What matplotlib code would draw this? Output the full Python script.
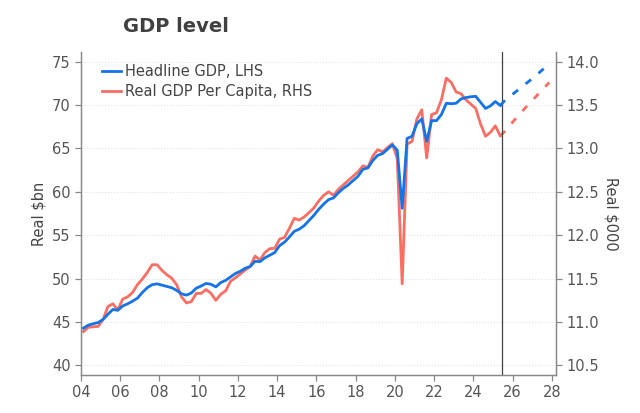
import numpy as np
import matplotlib
matplotlib.use("Agg")
import matplotlib.pyplot as plt

# quarterly, mid-quarter positions from 2004 Q1
start_year = 2004.125

# Headline GDP, Real $bn (LHS)
headline = [
    44.3, 44.65, 44.8, 44.95,
    45.3, 45.9, 46.45, 46.35,
    46.85, 47.1, 47.4, 47.75,
    48.4, 48.95, 49.3, 49.4,
    49.25, 49.1, 48.95, 48.65,
    48.25, 48.1, 48.35, 48.9,
    49.15, 49.45, 49.35, 49.05,
    49.55, 49.8, 50.2, 50.6,
    50.85, 51.2, 51.4, 52.0,
    51.95, 52.4, 52.7, 53.0,
    53.8, 54.2, 54.8, 55.45,
    55.7, 56.1, 56.7, 57.3,
    58.0, 58.6, 59.1, 59.3,
    59.9, 60.4, 60.8, 61.3,
    61.8, 62.6, 62.75, 63.6,
    64.2, 64.4, 64.9, 65.4,
    64.8, 58.1, 66.15, 66.4,
    67.85, 68.4, 65.8, 68.2,
    68.2, 68.9, 70.2, 70.15,
    70.2, 70.7, 70.85, 70.95,
    71.0, 70.3, 69.6, 69.9,
    70.4, 69.95,
]
headline_fc = [69.95, 70.55, 71.0, 71.45, 71.9, 72.35, 72.8, 73.25, 73.75, 74.25, 74.8]

# Real GDP per capita, Real $000 (RHS)
per_capita = [
    10.89, 10.94, 10.945, 10.95,
    11.03, 11.18, 11.21, 11.14,
    11.265, 11.29, 11.34, 11.43,
    11.495, 11.57, 11.66, 11.66,
    11.595, 11.545, 11.505, 11.43,
    11.29, 11.22, 11.235, 11.33,
    11.33, 11.375, 11.33, 11.25,
    11.32, 11.36, 11.47, 11.51,
    11.555, 11.60, 11.64, 11.76,
    11.715, 11.80, 11.845, 11.85,
    11.955, 11.975, 12.08, 12.195,
    12.175, 12.21, 12.26, 12.315,
    12.395, 12.46, 12.50, 12.46,
    12.53, 12.58, 12.63, 12.68,
    12.73, 12.80, 12.78, 12.91,
    12.985, 12.96, 13.01, 13.055,
    12.88, 11.44, 13.05, 13.08,
    13.34, 13.445, 12.89, 13.39,
    13.41, 13.56, 13.81, 13.76,
    13.65, 13.63, 13.56, 13.51,
    13.46, 13.28, 13.14, 13.185,
    13.26, 13.145,
]
per_capita_fc = [13.145, 13.20, 13.265, 13.335, 13.40, 13.46, 13.52, 13.58, 13.64, 13.70, 13.76]

x_ticks = [2004, 2006, 2008, 2010, 2012, 2014, 2016, 2018, 2020, 2022, 2024, 2026, 2028]
x_labels = ['04', '06', '08', '10', '12', '14', '16', '18', '20', '22', '24', '26', '28']
left_ticks = [40, 45, 50, 55, 60, 65, 70, 75]
right_ticks = [10.5, 11.0, 11.5, 12.0, 12.5, 13.0, 13.5, 14.0]
forecast_line = 2025.45

t = start_year + 0.25 * np.arange(len(headline))
t_fc = t[-1] + 0.25 * np.arange(len(headline_fc))

blue = '#1473e6'
red = '#fa6e64'
grey = '#555555'

fig = plt.figure(figsize=(6.4, 4.13), dpi=100)
ax = fig.add_axes([0.1266, 0.092, 0.7416, 0.782])
ax2 = ax.twinx()
# blue (LHS) drawn above red
ax.set_zorder(ax2.get_zorder() + 1)
ax.patch.set_visible(False)

ax.plot(t, headline, color=blue, lw=2.0, label='Headline GDP, LHS', zorder=3)
ax.plot(t_fc, headline_fc, color=blue, lw=2.0, dashes=(2.5, 3.5), zorder=3)
ax2.plot(t, per_capita, color=red, lw=2.0, zorder=2)
ax2.plot(t_fc, per_capita_fc, color=red, lw=2.0, dashes=(2.5, 3.5), zorder=2)
ax.plot([], [], color=red, lw=2.0, label='Real GDP Per Capita, RHS')

ax.axvline(forecast_line, color='#444444', lw=0.9, zorder=1)

ax.set_xlim(2004, 2028.2)
ax.set_ylim(38.9, 76.1)
ax2.set_ylim(10.39, 14.11)

ax.set_xticks(x_ticks)
ax.set_xticklabels(x_labels)
ax.set_yticks(left_ticks)
ax2.set_yticks(right_ticks)
ax2.set_yticklabels([f'{v:.1f}' for v in right_ticks])

ax2.grid(axis='y', color='#dbe6ec', lw=0.8, ls=':')
ax2.set_axisbelow(True)

for a in (ax, ax2):
    a.spines['top'].set_visible(False)
    for s in ('left', 'right', 'bottom'):
        a.spines[s].set_color('#888888')
        a.spines[s].set_linewidth(0.9)
    a.tick_params(colors='#888888', labelcolor=grey, labelsize=10.5, length=4, width=0.9)

ax.set_ylabel('Real $bn', fontsize=10.5, color='#444444', labelpad=4)
ax2.set_ylabel('Real $000', fontsize=10.5, color='#444444', rotation=-90, labelpad=14)

leg = ax.legend(loc='upper left', frameon=False, fontsize=10.5, handlelength=1.3,
                handletextpad=0.25, borderaxespad=0.4, bbox_to_anchor=(0.02, 1.0),
                labelspacing=0.35)
for txt in leg.get_texts():
    txt.set_color('#444444')

fig.text(0.192, 0.935, 'GDP level', fontsize=14, fontweight='bold', color='#404040',
         ha='left', va='center')

fig.savefig('out.png', dpi=100)
